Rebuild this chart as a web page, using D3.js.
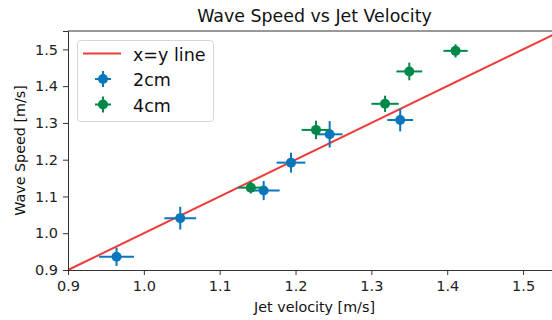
<!DOCTYPE html>
<html>
<head>
<meta charset="utf-8">
<script src="https://cdn.jsdelivr.net/npm/d3@7"></script>
<style>
  body { margin: 0; background: #fff; }
  svg { display: block; font-family: 'DejaVu Sans', sans-serif; }
</style>
</head>
<body>
<div class="container"></div>
<script>
const w = 552;
const h = 320;

// measurements, 2cm nozzle
const jet2 = [0.964, 1.048, 1.158, 1.194, 1.245, 1.338];
const wave2 = [0.936, 1.041, 1.116, 1.192, 1.269, 1.308];
const jetErr2 = [0.023, 0.021, 0.021, 0.019, 0.017, 0.017];
const waveErr2 = [0.025, 0.031, 0.026, 0.027, 0.036, 0.031];

// measurements, 4cm nozzle
const jet4 = [1.141, 1.227, 1.318, 1.350, 1.411];
const wave4 = [1.124, 1.281, 1.352, 1.440, 1.496];
const jetErr4 = [0.017, 0.019, 0.018, 0.017, 0.016];
const waveErr4 = [0.016, 0.025, 0.022, 0.024, 0.018];

const ticks = [0.9, 1.0, 1.1, 1.2, 1.3, 1.4, 1.5];
const legendItems = ['x=y line', '2cm', '4cm'];

const blue = '#0a77bd';
const green = '#02894a';
const red = '#ee3b3b';

const xScale = d3.scaleLinear().domain([0.9, 1.55]).range([68, 561]);
const yScale = d3.scaleLinear().domain([0.9, 1.55]).range([270, 31]);

const svg = d3.select('.container')
  .append('svg')
  .attr('width', w)
  .attr('height', h);

// x=y reference line
svg.append('line')
  .attr('x1', xScale(0.9)).attr('y1', yScale(0.9))
  .attr('x2', xScale(1.55)).attr('y2', yScale(1.55))
  .attr('stroke', red)
  .attr('stroke-width', 2);

function drawSeries(xs, ys, xe, ye, color) {
  const g = svg.append('g');
  const pts = xs.map((x, i) => ({ x: x, y: ys[i], xe: xe[i], ye: ye[i] }));
  g.selectAll('.xerr').data(pts).enter().append('line')
    .attr('x1', (d) => xScale(d.x - d.xe)).attr('x2', (d) => xScale(d.x + d.xe))
    .attr('y1', (d) => yScale(d.y)).attr('y2', (d) => yScale(d.y))
    .attr('stroke', color).attr('stroke-width', 2);
  g.selectAll('.yerr').data(pts).enter().append('line')
    .attr('x1', (d) => xScale(d.x)).attr('x2', (d) => xScale(d.x))
    .attr('y1', (d) => yScale(d.y - d.ye)).attr('y2', (d) => yScale(d.y + d.ye))
    .attr('stroke', color).attr('stroke-width', 2);
  g.selectAll('circle').data(pts).enter().append('circle')
    .attr('cx', (d) => xScale(d.x))
    .attr('cy', (d) => yScale(d.y))
    .attr('r', 5)
    .attr('fill', color);
}

drawSeries(jet2, wave2, jetErr2, waveErr2, blue);
drawSeries(jet4, wave4, jetErr4, waveErr4, green);

// axes
const xAxis = d3.axisBottom(xScale).tickValues(ticks).tickFormat(d3.format('.1f')).tickSizeOuter(0).tickSize(5).tickPadding(6);
const yAxis = d3.axisLeft(yScale).tickValues(ticks).tickFormat(d3.format('.1f')).tickSizeOuter(0).tickSize(5).tickPadding(5);

const gx = svg.append('g')
  .attr('transform', 'translate(0,' + yScale(0.9) + ')')
  .call(xAxis);
const gy = svg.append('g')
  .attr('transform', 'translate(' + xScale(0.9) + ',0)')
  .call(yAxis);

[gx, gy].forEach((g) => {
  g.selectAll('text').style('font-size', '14.5px').attr('fill', '#222').style('font-family', 'DejaVu Sans');
  g.selectAll('line').attr('stroke', '#333');
  g.select('.domain').attr('stroke', '#333');
});

// top spine
svg.append('line')
  .attr('x1', xScale(0.9)).attr('x2', xScale(1.55))
  .attr('y1', yScale(1.55)).attr('y2', yScale(1.55))
  .attr('stroke', '#333');

// title and labels
svg.append('text')
  .attr('x', (xScale(0.9) + xScale(1.55)) / 2)
  .attr('y', 22)
  .attr('text-anchor', 'middle')
  .style('font-size', '17.4px')
  .attr('fill', '#111')
  .text('Wave Speed vs Jet Velocity');

svg.append('text')
  .attr('x', (xScale(0.9) + xScale(1.55)) / 2)
  .attr('y', 312)
  .attr('text-anchor', 'middle')
  .style('font-size', '14.3px')
  .attr('fill', '#111')
  .text('Jet velocity [m/s]');

svg.append('text')
  .attr('transform', 'rotate(-90)')
  .attr('x', -(yScale(0.9) + yScale(1.55)) / 2)
  .attr('y', 25)
  .attr('text-anchor', 'middle')
  .style('font-size', '14.3px')
  .attr('fill', '#111')
  .text('Wave Speed [m/s]');

// legend
const legend = svg.append('g').attr('transform', 'translate(77,40)');
legend.append('rect')
  .attr('x', 0.5).attr('y', 0.5)
  .attr('width', 136).attr('height', 81)
  .attr('rx', 3)
  .attr('fill', '#fff')
  .attr('fill-opacity', 0.8)
  .attr('stroke', '#d6d6d6');

const rows = legend.selectAll('.row')
  .data(legendItems)
  .enter()
  .append('g')
  .attr('transform', (d, i) => 'translate(0,' + (13.5 + i * 25.5) + ')');

rows.append('text')
  .attr('x', 56)
  .attr('y', 7)
  .style('font-size', '17.5px')
  .attr('fill', '#111')
  .text((d) => d);

rows.filter((d, i) => i === 0).append('line')
  .attr('x1', 6).attr('x2', 44)
  .attr('stroke', red).attr('stroke-width', 2);

const markerRows = rows.filter((d, i) => i > 0);
const legendColor = (d) => (d === '2cm' ? blue : green);
markerRows.append('line')
  .attr('x1', 18).attr('x2', 34)
  .attr('stroke', legendColor).attr('stroke-width', 2);
markerRows.append('line')
  .attr('x1', 26).attr('x2', 26).attr('y1', -8).attr('y2', 8)
  .attr('stroke', legendColor).attr('stroke-width', 2);
markerRows.append('circle')
  .attr('cx', 26)
  .attr('r', 5)
  .attr('fill', legendColor);
</script>
</body>
</html>
